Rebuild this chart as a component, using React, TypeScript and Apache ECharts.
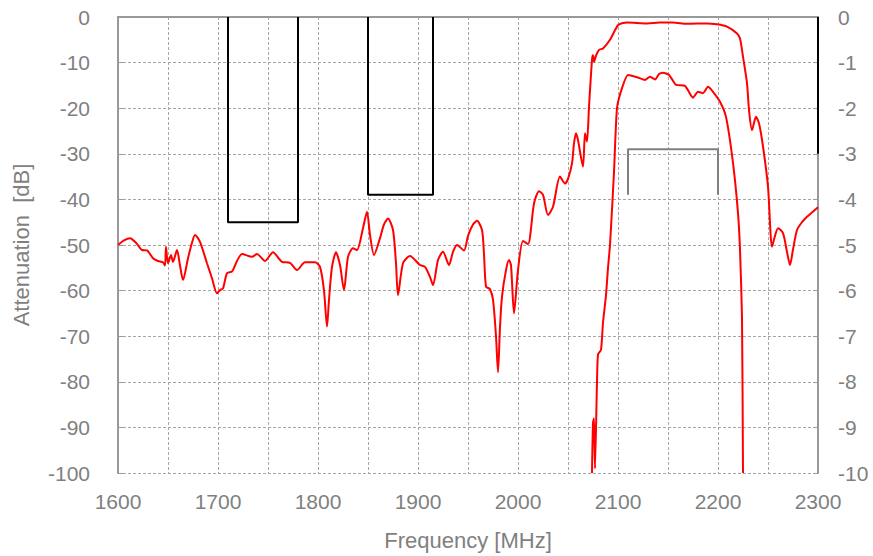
import React, { useEffect, useRef } from "react";
import * as echarts from "echarts";

// Wide-band attenuation (left axis, dB)
const wideFreq = [
  1600, 1606, 1612, 1618, 1624, 1629, 1635, 1640, 1645, 1647, 1648, 1650, 1653, 1655, 1659, 1662, 1665, 1670, 1674, 1677,
  1682, 1689, 1694, 1699, 1702, 1705, 1709, 1714, 1719, 1724, 1734, 1739, 1747, 1755, 1764, 1772, 1779, 1787, 1797, 1802,
  1806, 1809, 1811, 1814, 1818, 1822, 1826, 1830, 1835, 1839, 1845, 1849, 1852, 1856, 1862, 1866, 1870, 1875, 1878, 1880,
  1885, 1892, 1902, 1907, 1912, 1915, 1920, 1925, 1931, 1935, 1939, 1946, 1950, 1955, 1959, 1964, 1966, 1968, 1972, 1975,
  1978, 1980, 1982, 1984, 1988, 1991, 1993, 1996, 2000, 2005, 2010, 2016, 2021, 2025, 2030, 2035, 2042, 2047, 2050, 2054,
  2056, 2058, 2060, 2065, 2067, 2069, 2071, 2074, 2075, 2076, 2078, 2081, 2085, 2092, 2100, 2105, 2109, 2129, 2142, 2155,
  2169, 2189, 2199, 2209, 2219, 2222, 2225, 2229, 2231, 2234, 2238, 2241, 2245, 2250, 2254, 2257, 2260, 2265, 2269, 2272,
  2275, 2279, 2284, 2289, 2300,
];
const wideDb = [
  -50.0, -49.0, -48.5, -49.5, -51.1, -51.2, -52.9, -53.5, -53.8, -54.5, -50.4, -54.0, -52.2, -53.7, -51.1, -54.5, -57.7, -52.9, -49.5, -47.8,
  -49.3, -54.0, -57.3, -60.6, -59.9, -59.5, -56.2, -55.8, -53.5, -52.0, -52.6, -52.0, -53.5, -51.6, -53.7, -53.9, -55.5, -53.8, -53.8, -54.8,
  -60.0, -67.9, -62.0, -54.8, -51.6, -54.4, -59.9, -52.6, -50.7, -51.1, -46.3, -42.7, -47.8, -52.2, -48.5, -45.5, -44.2, -46.7, -54.0, -61.0,
  -54.0, -52.4, -54.4, -54.8, -57.0, -58.8, -53.3, -51.5, -54.4, -51.5, -50.0, -51.2, -48.0, -45.5, -44.7, -46.7, -52.0, -59.1, -59.7, -62.0,
  -70.0, -77.9, -68.0, -61.3, -55.5, -53.3, -54.4, -65.0, -55.5, -49.1, -49.8, -40.9, -38.2, -39.0, -43.4, -41.6, -35.0, -36.5, -35.5, -32.1,
  -27.7, -25.5, -27.0, -32.8, -25.5, -27.3, -19.7, -9.4, -8.4, -9.8, -8.5, -7.2, -6.9, -5.0, -1.8, -1.3, -1.2, -1.4, -1.2, -1.2,
  -1.5, -1.4, -1.6, -2.1, -3.6, -4.7, -8.7, -14.5, -20.4, -24.8, -21.9, -23.3, -28.4, -37.2, -50.4, -48.0, -46.3, -47.4, -51.5, -54.4,
  -51.0, -46.7, -45.0, -43.8, -41.7,
];

// Passband detail (right axis, dB)
const passFreq = [
  2074, 2075, 2076, 2077, 2079, 2080, 2083, 2085, 2088, 2090, 2092, 2096, 2099, 2104, 2110, 2119, 2127, 2132, 2137, 2141,
  2145, 2151, 2155, 2158, 2167, 2175, 2180, 2185, 2190, 2195, 2202, 2208, 2215, 2220, 2222, 2224, 2225,
];
const passDb = [
  -10, -8.9, -8.8, -9.9, -8.0, -7.4, -7.3, -6.7, -6.1, -5.5, -5.0, -3.4, -2.0, -1.56, -1.27, -1.32, -1.38, -1.31, -1.37, -1.25,
  -1.22, -1.27, -1.4, -1.49, -1.51, -1.77, -1.64, -1.67, -1.53, -1.64, -1.86, -2.19, -3.2, -4.3, -5.1, -6.6, -10,
];

// Spec masks (left axis units)
const mask1 = [[1710, 0], [1710, -45], [1780, -45], [1780, 0]];
const mask2 = [[1850, 0], [1850, -39], [1915, -39], [1915, 0]];
const mask3 = [[2300, 0], [2300, -30]];
const passMask = [[2110, -39], [2110, -29], [2200, -29], [2200, -39]];

const leftTicks = { min: -100, max: 0, interval: 10 };
const rightTicks = { min: -10, max: 0, interval: 1 };
const xTicks = { min: 1600, max: 2300, interval: 100 };

const GRAY = "#7f7f7f";
const FONT = "Liberation Sans, Arial, sans-serif";

export default function App() {
  const ref = useRef<HTMLDivElement>(null);
  useEffect(() => {
    if (!ref.current) return;
    const chart = echarts.init(ref.current, null, { renderer: "svg" });
    const gridLine = { show: true, lineStyle: { color: "#a6a6a6", type: [3, 2], width: 1 } };
    chart.setOption({
      animation: false,
      grid: { left: 118, right: 55, top: 17, bottom: 83, containLabel: false },
      xAxis: {
        type: "value",
        min: xTicks.min,
        max: xTicks.max,
        interval: xTicks.interval,
        name: "Frequency [MHz]",
        nameLocation: "middle",
        nameGap: 56,
        nameTextStyle: { color: GRAY, fontSize: 22, fontFamily: FONT },
        axisLine: { show: true, lineStyle: { color: "#999999", width: 2 } },
        axisTick: { show: false },
        minorTick: { show: false, splitNumber: 2 },
        axisLabel: {
          color: GRAY,
          fontSize: 21,
          fontFamily: FONT,
          margin: 18,
          formatter: (v: number) => String(v),
        },
        splitLine: gridLine,
        minorSplitLine: gridLine,
      },
      yAxis: [
        {
          type: "value",
          min: leftTicks.min,
          max: leftTicks.max,
          interval: leftTicks.interval,
          name: "Attenuation  [dB]",
          nameLocation: "middle",
          nameGap: 86,
          nameTextStyle: { color: GRAY, fontSize: 22, fontFamily: FONT },
          axisLine: { show: true, lineStyle: { color: "#999999", width: 2 } },
          axisTick: { show: true, inside: true, length: 5, lineStyle: { color: "#999999" } },
          axisLabel: { color: GRAY, fontSize: 21, fontFamily: FONT, margin: 28, formatter: (v: number) => String(v) },
          splitLine: gridLine,
        },
        {
          type: "value",
          min: rightTicks.min,
          max: rightTicks.max,
          interval: rightTicks.interval,
          position: "right",
          axisLine: { show: true, lineStyle: { color: "#999999", width: 2 } },
          axisTick: { show: true, inside: true, length: 5, lineStyle: { color: "#999999" } },
          axisLabel: { color: GRAY, fontSize: 21, fontFamily: FONT, margin: 20, formatter: (v: number) => String(v) },
          splitLine: { show: false },
        },
      ],
      series: [
        { type: "line", data: mask1, showSymbol: false, lineStyle: { color: "#000000", width: 2 }, z: 3 },
        { type: "line", data: mask2, showSymbol: false, lineStyle: { color: "#000000", width: 2 }, z: 3 },
        { type: "line", data: mask3, showSymbol: false, lineStyle: { color: "#000000", width: 2 }, z: 3 },
        { type: "line", data: passMask, showSymbol: false, lineStyle: { color: "#808080", width: 2 }, z: 3 },
        {
          type: "line",
          data: wideFreq.map((f, i) => [f, wideDb[i]]),
          showSymbol: false,
          smooth: 0.25,
          lineStyle: { color: "#ff0000", width: 2 },
          z: 4,
        },
        {
          type: "line",
          yAxisIndex: 1,
          data: passFreq.map((f, i) => [f, passDb[i]]),
          showSymbol: false,
          smooth: 0.2,
          lineStyle: { color: "#ff0000", width: 2 },
          z: 4,
        },
      ],
    });
    return () => chart.dispose();
  }, []);
  return <div ref={ref} style={{ width: 873, height: 556, position: "absolute", left: 0, top: 0 }} />;
}
